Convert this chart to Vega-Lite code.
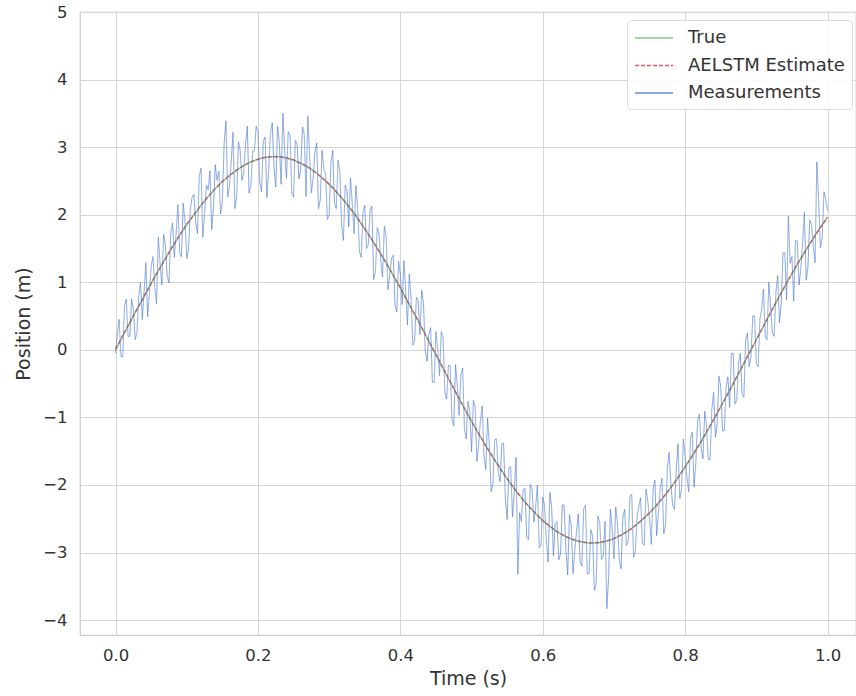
{
"$schema":"https://vega.github.io/schema/vega-lite/v6.json",
"width":776,"height":623,
"autosize":{"type":"none"},
"padding":{"left":80,"top":12,"right":0,"bottom":61},
"config":{
 "font":"DejaVu Sans",
 "view":{"stroke":"#cccccc","strokeWidth":1.25},
 "axis":{"grid":true,"gridColor":"#d6d6d6","gridWidth":1,"domain":false,"ticks":false,"labelFontSize":16.5,"labelColor":"#333333","titleFontSize":19,"titleColor":"#333333","titleFontWeight":"normal"},
 "legend":{"orient":"none","legendX":547,"legendY":8,"title":null,"symbolType":"M-1,0H2.8","symbolSize":400,"symbolStrokeWidth":1.5,"labelFontSize":18,"labelColor":"#333333","labelOffset":32,"rowPadding":7.5,"padding":7,"fillColor":"rgba(255,255,255,0.85)","strokeColor":"#dddddd","cornerRadius":4}
},
"datasets":{
"curve":[
{"t":0,"a":0,"b":0.01},{"t":0.01,"a":0.201,"b":0.21},{"t":0.02,"a":0.401,"b":0.41},{"t":0.03,"a":0.600,"b":0.60},{"t":0.04,"a":0.795,"b":0.79},
{"t":0.05,"a":0.986,"b":0.98},{"t":0.06,"a":1.173,"b":1.17},{"t":0.07,"a":1.353,"b":1.35},{"t":0.08,"a":1.527,"b":1.53},{"t":0.09,"a":1.693,"b":1.70},
{"t":0.1,"a":1.851,"b":1.86},{"t":0.11,"a":2.000,"b":2.00},{"t":0.12,"a":2.139,"b":2.14},{"t":0.13,"a":2.268,"b":2.27},{"t":0.14,"a":2.385,"b":2.39},
{"t":0.15,"a":2.490,"b":2.49},{"t":0.16,"a":2.582,"b":2.58},{"t":0.17,"a":2.661,"b":2.66},{"t":0.18,"a":2.727,"b":2.73},{"t":0.19,"a":2.782,"b":2.78},
{"t":0.2,"a":2.822,"b":2.82},{"t":0.21,"a":2.848,"b":2.85},{"t":0.22,"a":2.859,"b":2.86},{"t":0.23,"a":2.857,"b":2.86},{"t":0.24,"a":2.840,"b":2.84},
{"t":0.25,"a":2.809,"b":2.81},{"t":0.26,"a":2.764,"b":2.76},{"t":0.27,"a":2.706,"b":2.71},{"t":0.28,"a":2.634,"b":2.63},{"t":0.29,"a":2.549,"b":2.55},
{"t":0.3,"a":2.451,"b":2.45},{"t":0.31,"a":2.342,"b":2.34},{"t":0.32,"a":2.220,"b":2.22},{"t":0.33,"a":2.088,"b":2.09},{"t":0.34,"a":1.945,"b":1.95},
{"t":0.35,"a":1.793,"b":1.79},{"t":0.36,"a":1.632,"b":1.63},{"t":0.37,"a":1.462,"b":1.46},{"t":0.38,"a":1.286,"b":1.29},{"t":0.39,"a":1.103,"b":1.10},
{"t":0.4,"a":0.915,"b":0.92},{"t":0.41,"a":0.722,"b":0.72},{"t":0.42,"a":0.525,"b":0.53},{"t":0.43,"a":0.327,"b":0.33},{"t":0.44,"a":0.126,"b":0.13},
{"t":0.45,"a":-0.076,"b":-0.07},{"t":0.46,"a":-0.276,"b":-0.27},{"t":0.47,"a":-0.476,"b":-0.47},{"t":0.48,"a":-0.673,"b":-0.67},{"t":0.49,"a":-0.867,"b":-0.87},
{"t":0.5,"a":-1.056,"b":-1.06},{"t":0.51,"a":-1.241,"b":-1.24},{"t":0.52,"a":-1.419,"b":-1.42},{"t":0.53,"a":-1.590,"b":-1.59},{"t":0.54,"a":-1.753,"b":-1.75},
{"t":0.55,"a":-1.908,"b":-1.91},{"t":0.56,"a":-2.053,"b":-2.05},{"t":0.57,"a":-2.188,"b":-2.19},{"t":0.58,"a":-2.312,"b":-2.31},{"t":0.59,"a":-2.425,"b":-2.42},
{"t":0.6,"a":-2.526,"b":-2.53},{"t":0.61,"a":-2.613,"b":-2.61},{"t":0.62,"a":-2.689,"b":-2.69},{"t":0.63,"a":-2.751,"b":-2.75},{"t":0.64,"a":-2.799,"b":-2.80},
{"t":0.65,"a":-2.833,"b":-2.83},{"t":0.66,"a":-2.854,"b":-2.85},{"t":0.67,"a":-2.860,"b":-2.86},{"t":0.68,"a":-2.852,"b":-2.85},{"t":0.69,"a":-2.830,"b":-2.83},
{"t":0.7,"a":-2.794,"b":-2.79},{"t":0.71,"a":-2.744,"b":-2.74},{"t":0.72,"a":-2.680,"b":-2.68},{"t":0.73,"a":-2.603,"b":-2.60},{"t":0.74,"a":-2.514,"b":-2.51},
{"t":0.75,"a":-2.412,"b":-2.41},{"t":0.76,"a":-2.297,"b":-2.30},{"t":0.77,"a":-2.172,"b":-2.17},{"t":0.78,"a":-2.035,"b":-2.04},{"t":0.79,"a":-1.889,"b":-1.89},
{"t":0.8,"a":-1.733,"b":-1.73},{"t":0.81,"a":-1.569,"b":-1.57},{"t":0.82,"a":-1.397,"b":-1.40},{"t":0.83,"a":-1.218,"b":-1.22},{"t":0.84,"a":-1.033,"b":-1.03},
{"t":0.85,"a":-0.843,"b":-0.84},{"t":0.86,"a":-0.649,"b":-0.65},{"t":0.87,"a":-0.451,"b":-0.45},{"t":0.88,"a":-0.251,"b":-0.25},{"t":0.89,"a":-0.050,"b":-0.05},
{"t":0.9,"a":0.151,"b":0.15},{"t":0.91,"a":0.351,"b":0.35},{"t":0.92,"a":0.550,"b":0.55},{"t":0.93,"a":0.746,"b":0.75},{"t":0.94,"a":0.939,"b":0.94},
{"t":0.95,"a":1.127,"b":1.13},{"t":0.96,"a":1.309,"b":1.31},{"t":0.97,"a":1.484,"b":1.48},{"t":0.98,"a":1.653,"b":1.65},{"t":0.99,"a":1.813,"b":1.81},
{"t":1.0,"a":1.964,"b":1.96}
],
"meas":[
{"t":0,"m":-0.05},{"t":0.0025,"m":0.25},{"t":0.005,"m":0.45},{"t":0.0075,"m":-0.10},{"t":0.01,"m":-0.10},{"t":0.0125,"m":0.65},{"t":0.015,"m":0.75},{"t":0.0175,"m":0.20},
{"t":0.02,"m":0.20},{"t":0.0225,"m":0.75},{"t":0.025,"m":0.60},{"t":0.0275,"m":0.15},{"t":0.03,"m":0.25},{"t":0.0325,"m":0.80},{"t":0.035,"m":1.00},{"t":0.0375,"m":0.45},
{"t":0.04,"m":0.85},{"t":0.0425,"m":1.29},{"t":0.045,"m":0.49},{"t":0.0475,"m":0.84},{"t":0.05,"m":1.24},{"t":0.0525,"m":1.38},{"t":0.055,"m":0.93},{"t":0.0575,"m":0.68},
{"t":0.06,"m":1.67},{"t":0.0625,"m":1.27},{"t":0.065,"m":0.96},{"t":0.0675,"m":1.71},{"t":0.07,"m":1.55},{"t":0.0725,"m":1.10},{"t":0.075,"m":0.99},{"t":0.0775,"m":1.73},
{"t":0.08,"m":1.88},{"t":0.0825,"m":1.37},{"t":0.085,"m":1.71},{"t":0.0875,"m":2.15},{"t":0.09,"m":1.44},{"t":0.0925,"m":1.38},{"t":0.095,"m":2.17},{"t":0.0975,"m":1.91},
{"t":0.1,"m":1.35},{"t":0.1025,"m":1.49},{"t":0.105,"m":2.08},{"t":0.1075,"m":2.26},{"t":0.11,"m":2.30},{"t":0.1125,"m":1.89},{"t":0.115,"m":1.72},{"t":0.1175,"m":2.56},
{"t":0.12,"m":2.69},{"t":0.1225,"m":1.67},{"t":0.125,"m":2.00},{"t":0.1275,"m":2.44},{"t":0.13,"m":2.37},{"t":0.1325,"m":2.65},{"t":0.135,"m":1.78},{"t":0.1375,"m":2.11},
{"t":0.14,"m":2.74},{"t":0.1425,"m":2.51},{"t":0.145,"m":2.64},{"t":0.1475,"m":2.01},{"t":0.15,"m":2.19},{"t":0.1525,"m":3.06},{"t":0.155,"m":3.39},{"t":0.1575,"m":2.26},
{"t":0.16,"m":2.43},{"t":0.1625,"m":2.80},{"t":0.165,"m":3.22},{"t":0.1675,"m":2.09},{"t":0.17,"m":2.26},{"t":0.1725,"m":3.08},{"t":0.175,"m":2.95},{"t":0.1775,"m":2.51},
{"t":0.18,"m":2.63},{"t":0.1825,"m":3.04},{"t":0.185,"m":3.31},{"t":0.1875,"m":2.32},{"t":0.19,"m":2.43},{"t":0.1925,"m":2.94},{"t":0.195,"m":2.95},{"t":0.1975,"m":3.31},
{"t":0.2,"m":3.22},{"t":0.2025,"m":2.48},{"t":0.205,"m":2.34},{"t":0.2075,"m":3.09},{"t":0.21,"m":3.15},{"t":0.2125,"m":2.25},{"t":0.215,"m":2.66},{"t":0.2175,"m":3.21},
{"t":0.22,"m":3.36},{"t":0.2225,"m":2.71},{"t":0.225,"m":2.41},{"t":0.2275,"m":3.31},{"t":0.23,"m":3.06},{"t":0.2325,"m":2.45},{"t":0.235,"m":3.50},{"t":0.2375,"m":2.95},
{"t":0.24,"m":2.54},{"t":0.2425,"m":3.23},{"t":0.245,"m":3.18},{"t":0.2475,"m":2.32},{"t":0.25,"m":2.26},{"t":0.2525,"m":3.10},{"t":0.255,"m":3.04},{"t":0.2575,"m":2.53},
{"t":0.26,"m":2.66},{"t":0.2625,"m":3.30},{"t":0.265,"m":3.19},{"t":0.2675,"m":2.27},{"t":0.27,"m":3.46},{"t":0.2725,"m":2.89},{"t":0.275,"m":2.32},{"t":0.2775,"m":2.55},
{"t":0.28,"m":2.93},{"t":0.2825,"m":3.06},{"t":0.285,"m":2.09},{"t":0.2875,"m":2.22},{"t":0.29,"m":2.95},{"t":0.2925,"m":2.68},{"t":0.295,"m":2.60},{"t":0.2975,"m":1.93},
{"t":0.3,"m":2.00},{"t":0.3025,"m":2.77},{"t":0.305,"m":2.95},{"t":0.3075,"m":2.17},{"t":0.31,"m":2.09},{"t":0.3125,"m":2.81},{"t":0.315,"m":2.63},{"t":0.3175,"m":1.85},
{"t":0.32,"m":1.62},{"t":0.3225,"m":2.44},{"t":0.325,"m":2.36},{"t":0.3275,"m":1.82},{"t":0.33,"m":2.54},{"t":0.3325,"m":2.15},{"t":0.335,"m":1.72},{"t":0.3375,"m":2.43},
{"t":0.34,"m":2.10},{"t":0.3425,"m":1.46},{"t":0.345,"m":1.37},{"t":0.3475,"m":2.03},{"t":0.35,"m":2.14},{"t":0.3525,"m":1.50},{"t":0.355,"m":1.56},{"t":0.3575,"m":2.07},
{"t":0.36,"m":2.13},{"t":0.3625,"m":1.04},{"t":0.365,"m":1.15},{"t":0.3675,"m":1.81},{"t":0.37,"m":1.71},{"t":0.3725,"m":1.32},{"t":0.375,"m":1.08},{"t":0.3775,"m":1.83},
{"t":0.38,"m":1.69},{"t":0.3825,"m":0.89},{"t":0.385,"m":1.10},{"t":0.3875,"m":1.35},{"t":0.39,"m":1.40},{"t":0.3925,"m":0.66},{"t":0.395,"m":0.56},{"t":0.3975,"m":1.31},
{"t":0.4,"m":1.12},{"t":0.4025,"m":0.67},{"t":0.405,"m":1.32},{"t":0.4075,"m":0.87},{"t":0.41,"m":0.37},{"t":0.4125,"m":1.12},{"t":0.415,"m":0.77},{"t":0.4175,"m":0.07},
{"t":0.42,"m":0.13},{"t":0.4225,"m":0.78},{"t":0.425,"m":0.73},{"t":0.4275,"m":0.23},{"t":0.43,"m":0.88},{"t":0.4325,"m":0.68},{"t":0.435,"m":-0.02},{"t":0.4375,"m":-0.17},
{"t":0.44,"m":0.23},{"t":0.4425,"m":0.33},{"t":0.445,"m":-0.48},{"t":0.4475,"m":-0.48},{"t":0.45,"m":0.27},{"t":0.4525,"m":0.02},{"t":0.455,"m":-0.38},{"t":0.4575,"m":0.27},
{"t":0.46,"m":0.17},{"t":0.4625,"m":-0.63},{"t":0.465,"m":-0.73},{"t":0.4675,"m":-0.23},{"t":0.47,"m":-0.23},{"t":0.4725,"m":-1.03},{"t":0.475,"m":-1.13},{"t":0.4775,"m":-0.22},
{"t":0.48,"m":-0.52},{"t":0.4825,"m":-0.97},{"t":0.485,"m":-0.37},{"t":0.4875,"m":-0.27},{"t":0.49,"m":-1.17},{"t":0.4925,"m":-1.32},{"t":0.495,"m":-0.76},{"t":0.4975,"m":-0.91},
{"t":0.5,"m":-1.51},{"t":0.5025,"m":-0.75},{"t":0.505,"m":-0.85},{"t":0.5075,"m":-1.65},{"t":0.51,"m":-1.39},{"t":0.5125,"m":-1.04},{"t":0.515,"m":-0.83},{"t":0.5175,"m":-1.58},
{"t":0.52,"m":-1.77},{"t":0.5225,"m":-1.01},{"t":0.525,"m":-1.41},{"t":0.5275,"m":-2.10},{"t":0.53,"m":-1.99},{"t":0.5325,"m":-1.33},{"t":0.535,"m":-1.32},{"t":0.5375,"m":-1.81},
{"t":0.54,"m":-1.95},{"t":0.5425,"m":-1.39},{"t":0.545,"m":-1.38},{"t":0.5475,"m":-2.22},{"t":0.55,"m":-2.51},{"t":0.5525,"m":-1.75},{"t":0.555,"m":-1.73},{"t":0.5575,"m":-2.47},
{"t":0.56,"m":-2.10},{"t":0.5625,"m":-1.59},{"t":0.565,"m":-3.32},{"t":0.5675,"m":-2.41},{"t":0.57,"m":-2.54},{"t":0.5725,"m":-2.07},{"t":0.575,"m":-2.05},{"t":0.5775,"m":-2.78},
{"t":0.58,"m":-2.81},{"t":0.5825,"m":-1.99},{"t":0.585,"m":-2.07},{"t":0.5875,"m":-2.55},{"t":0.59,"m":-2.33},{"t":0.5925,"m":-2.00},{"t":0.595,"m":-2.93},{"t":0.5975,"m":-2.90},
{"t":0.6,"m":-2.18},{"t":0.6025,"m":-2.30},{"t":0.605,"m":-2.82},{"t":0.6075,"m":-3.14},{"t":0.61,"m":-2.11},{"t":0.6125,"m":-2.33},{"t":0.615,"m":-3.05},{"t":0.6175,"m":-2.57},
{"t":0.62,"m":-2.54},{"t":0.6225,"m":-3.11},{"t":0.625,"m":-3.02},{"t":0.6275,"m":-2.29},{"t":0.63,"m":-2.30},{"t":0.6325,"m":-2.96},{"t":0.635,"m":-3.33},{"t":0.6375,"m":-2.44},
{"t":0.64,"m":-2.60},{"t":0.6425,"m":-3.31},{"t":0.645,"m":-2.97},{"t":0.6475,"m":-2.68},{"t":0.65,"m":-2.43},{"t":0.6525,"m":-3.14},{"t":0.655,"m":-3.20},{"t":0.6575,"m":-2.35},
{"t":0.66,"m":-2.30},{"t":0.6625,"m":-3.31},{"t":0.665,"m":-3.31},{"t":0.6675,"m":-2.66},{"t":0.67,"m":-2.76},{"t":0.6725,"m":-3.56},{"t":0.675,"m":-3.46},{"t":0.6775,"m":-2.46},
{"t":0.68,"m":-2.55},{"t":0.6825,"m":-3.10},{"t":0.685,"m":-3.04},{"t":0.6875,"m":-2.54},{"t":0.69,"m":-3.83},{"t":0.6925,"m":-3.37},{"t":0.695,"m":-2.36},{"t":0.6975,"m":-2.65},
{"t":0.7,"m":-3.09},{"t":0.7025,"m":-2.33},{"t":0.705,"m":-2.57},{"t":0.7075,"m":-3.11},{"t":0.71,"m":-3.24},{"t":0.7125,"m":-2.48},{"t":0.715,"m":-2.36},{"t":0.7175,"m":-2.90},
{"t":0.72,"m":-2.83},{"t":0.7225,"m":-2.16},{"t":0.725,"m":-2.14},{"t":0.7275,"m":-3.07},{"t":0.73,"m":-3.00},{"t":0.7325,"m":-2.48},{"t":0.735,"m":-2.31},{"t":0.7375,"m":-2.19},
{"t":0.74,"m":-2.86},{"t":0.7425,"m":-2.89},{"t":0.745,"m":-2.06},{"t":0.7475,"m":-2.24},{"t":0.75,"m":-2.51},{"t":0.7525,"m":-2.88},{"t":0.755,"m":-2.06},{"t":0.7575,"m":-1.93},
{"t":0.76,"m":-2.75},{"t":0.7625,"m":-2.42},{"t":0.765,"m":-2.04},{"t":0.7675,"m":-1.90},{"t":0.77,"m":-2.72},{"t":0.7725,"m":-2.59},{"t":0.775,"m":-1.76},{"t":0.7775,"m":-1.52},
{"t":0.78,"m":-1.99},{"t":0.7825,"m":-2.30},{"t":0.785,"m":-2.36},{"t":0.7875,"m":-1.78},{"t":0.79,"m":-1.39},{"t":0.7925,"m":-2.20},{"t":0.795,"m":-2.06},{"t":0.7975,"m":-1.32},
{"t":0.8,"m":-1.58},{"t":0.8025,"m":-1.89},{"t":0.805,"m":-2.10},{"t":0.8075,"m":-1.31},{"t":0.81,"m":-1.22},{"t":0.8125,"m":-2.03},{"t":0.815,"m":-1.68},{"t":0.8175,"m":-1.04},
{"t":0.82,"m":-0.95},{"t":0.8225,"m":-1.45},{"t":0.825,"m":-1.61},{"t":0.8275,"m":-0.91},{"t":0.83,"m":-1.12},{"t":0.8325,"m":-1.62},{"t":0.835,"m":-1.63},{"t":0.8375,"m":-0.88},
{"t":0.84,"m":-0.63},{"t":0.8425,"m":-1.29},{"t":0.845,"m":-1.09},{"t":0.8475,"m":-0.39},{"t":0.85,"m":-0.54},{"t":0.8525,"m":-1.20},{"t":0.855,"m":-1.20},{"t":0.8575,"m":-0.55},
{"t":0.86,"m":-0.40},{"t":0.8625,"m":-0.85},{"t":0.865,"m":-0.05},{"t":0.8675,"m":-0.05},{"t":0.87,"m":-0.80},{"t":0.8725,"m":-0.75},{"t":0.875,"m":-0.20},{"t":0.8775,"m":-0.05},
{"t":0.88,"m":-0.65},{"t":0.8825,"m":-0.70},{"t":0.885,"m":0.15},{"t":0.8875,"m":0.25},{"t":0.89,"m":-0.25},{"t":0.8925,"m":-0.10},{"t":0.895,"m":0.50},{"t":0.8975,"m":0.50},
{"t":0.9,"m":-0.20},{"t":0.9025,"m":-0.25},{"t":0.905,"m":0.45},{"t":0.9075,"m":0.60},{"t":0.91,"m":0.90},{"t":0.9125,"m":0.20},{"t":0.915,"m":0.15},{"t":0.9175,"m":1.00},
{"t":0.92,"m":0.65},{"t":0.9225,"m":0.25},{"t":0.925,"m":0.20},{"t":0.9275,"m":0.85},{"t":0.93,"m":1.10},{"t":0.9325,"m":0.40},{"t":0.935,"m":0.69},{"t":0.9375,"m":1.44},
{"t":0.94,"m":1.44},{"t":0.9425,"m":0.74},{"t":0.945,"m":1.98},{"t":0.9475,"m":1.28},{"t":0.95,"m":1.38},{"t":0.9525,"m":0.72},{"t":0.955,"m":1.62},{"t":0.9575,"m":1.61},
{"t":0.96,"m":0.96},{"t":0.9625,"m":1.20},{"t":0.965,"m":1.60},{"t":0.9675,"m":2.04},{"t":0.97,"m":1.03},{"t":0.9725,"m":1.23},{"t":0.975,"m":1.92},{"t":0.9775,"m":1.86},
{"t":0.98,"m":1.55},{"t":0.9825,"m":1.29},{"t":0.985,"m":2.78},{"t":0.9875,"m":2.22},{"t":0.99,"m":1.51},{"t":0.9925,"m":1.65},{"t":0.995,"m":2.34},{"t":0.9975,"m":2.23},
{"t":1.0,"m":2.06}
]},
"encoding":{
 "x":{"field":"t","type":"quantitative","scale":{"domain":[-0.05,1.04],"nice":false,"zero":false},"axis":{"values":[0,0.2,0.4,0.6,0.8,1.0],"format":".1f","title":"Time (s)","labelPadding":12,"titlePadding":6}},
 "color":{"type":"nominal","scale":{"domain":["True","AELSTM Estimate","Measurements"],"range":["#6acc64","#e8384f","#4878d0"]}},
 "strokeDash":{"type":"nominal","scale":{"domain":["True","AELSTM Estimate","Measurements"],"range":[[1,0],[4,2],[1,0]]}},
 "opacity":{"type":"nominal","scale":{"domain":["True","AELSTM Estimate","Measurements"],"range":[0.85,0.85,0.55]}}
},
"layer":[
 {"data":{"name":"curve"},"mark":{"type":"line","strokeWidth":1.5,"clip":true},
  "encoding":{"y":{"field":"a","type":"quantitative","scale":{"domain":[-4.22,5],"nice":false,"zero":false},"axis":{"values":[-4,-3,-2,-1,0,1,2,3,4,5],"format":"d","title":"Position (m)","labelPadding":13,"titlePadding":9}},
   "color":{"datum":"True"},"strokeDash":{"datum":"True"},"opacity":{"datum":"True"}}},
 {"data":{"name":"curve"},"mark":{"type":"line","strokeWidth":1.3,"clip":true},
  "encoding":{"y":{"field":"b","type":"quantitative"},
   "color":{"datum":"AELSTM Estimate"},"strokeDash":{"datum":"AELSTM Estimate"},"opacity":{"datum":"AELSTM Estimate"}}},
 {"data":{"name":"meas"},"mark":{"type":"line","strokeWidth":0.8,"clip":true},
  "encoding":{"y":{"field":"m","type":"quantitative"},
   "color":{"datum":"Measurements"},"strokeDash":{"datum":"Measurements"},"opacity":{"datum":"Measurements"}}}
]
}
